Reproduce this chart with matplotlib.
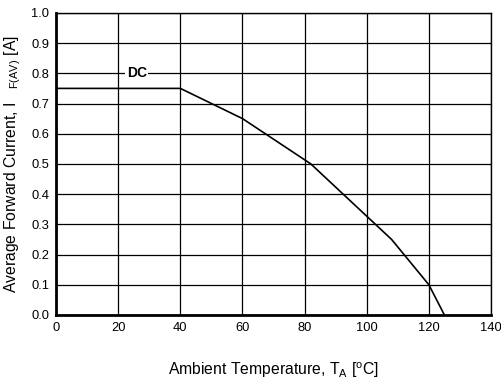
import numpy as np
import matplotlib
matplotlib.use('Agg')
from matplotlib import pyplot as plt

plt.rcParams['font.family'] = ['Liberation Sans', 'DejaVu Sans']
plt.rcParams['mathtext.fontset'] = 'custom'
plt.rcParams['mathtext.rm'] = 'Liberation Sans'
plt.rcParams['mathtext.it'] = 'Liberation Sans'

temp = [0, 40, 60, 82, 108, 120, 125]
current = [0.75, 0.75, 0.65, 0.50, 0.25, 0.10, 0.0]
x_ticks = [0, 20, 40, 60, 80, 100, 120, 140]
y_ticks = [0.0, 0.1, 0.2, 0.3, 0.4, 0.5, 0.6, 0.7, 0.8, 0.9, 1.0]

fig = plt.figure(figsize=(5.01, 3.79), dpi=100)
ax = fig.add_axes([0.112, 0.169, 0.868, 0.797])

ax.plot(temp, current, color='black', lw=1.2, zorder=3)
ax.set_xlim(0, 140)
ax.set_ylim(0, 1.0)
ax.set_xticks(x_ticks)
ax.set_yticks(y_ticks)
ax.set_yticklabels(['%.1f' % v for v in y_ticks])
ax.grid(True, color='black', lw=0.9)
ax.tick_params(length=0, labelsize=9.3, pad=5)
for s in ax.spines.values():
    s.set_linewidth(1.0)
ax.spines['left'].set_linewidth(2)
ax.spines['bottom'].set_linewidth(2)

ax.text(26, 0.8, 'DC', fontsize=10, fontweight='bold', ha='center', va='center',
        bbox=dict(facecolor='white', edgecolor='none', pad=1), zorder=4)

ax.set_xlabel('Ambient Temperature, T$_\\mathrm{A}$ [$^\\mathrm{o}$C]', fontsize=11.3, labelpad=19)
ax.set_ylabel('Average Forward Current, I   $_{\\mathrm{F(AV)}}$ [A]', fontsize=11.3, labelpad=6)

fig.savefig('out.png', dpi=100)
